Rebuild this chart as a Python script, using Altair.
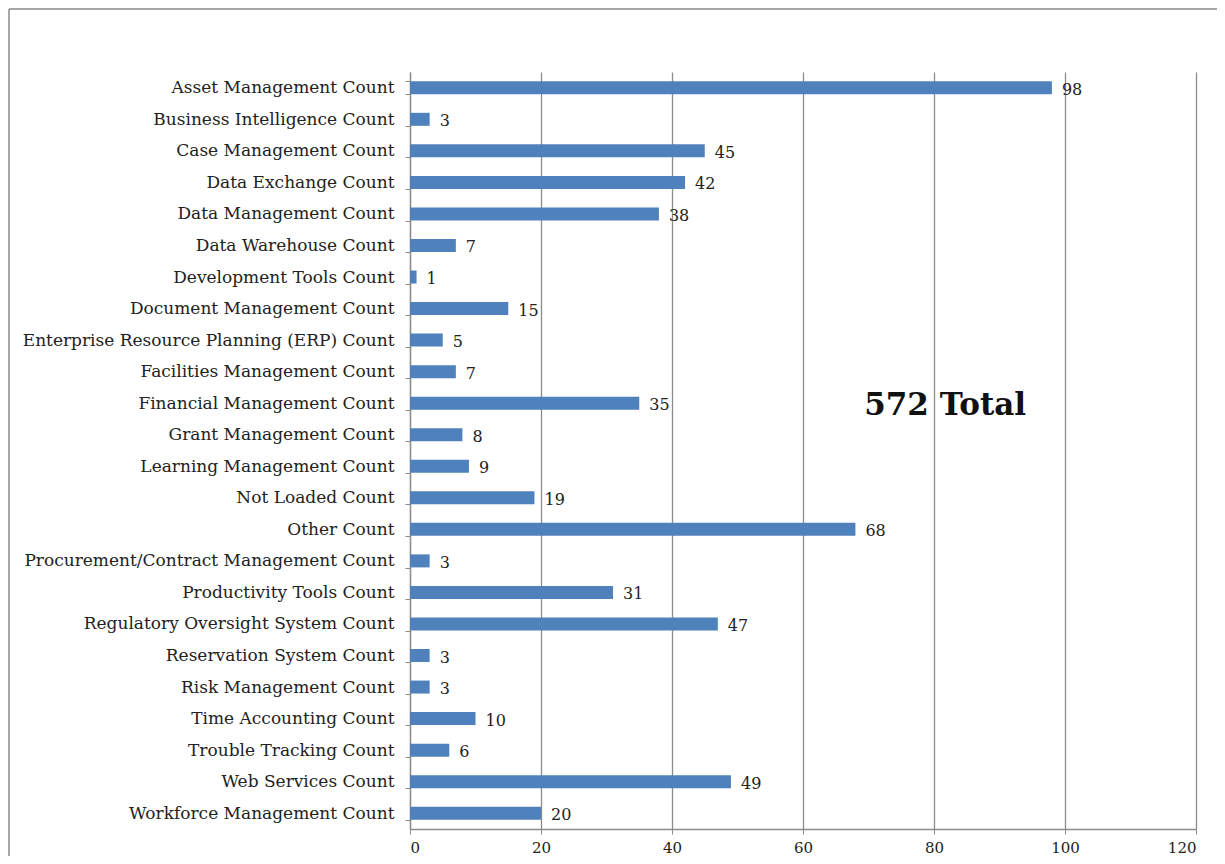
import altair as alt
import pandas as pd

categories = [
    "Asset Management Count", "Business Intelligence Count", "Case Management Count",
    "Data Exchange Count", "Data Management Count", "Data Warehouse Count",
    "Development Tools Count", "Document Management Count",
    "Enterprise Resource Planning (ERP) Count", "Facilities Management Count",
    "Financial Management Count", "Grant Management Count", "Learning Management Count",
    "Not Loaded Count", "Other Count", "Procurement/Contract Management Count",
    "Productivity Tools Count", "Regulatory Oversight System Count",
    "Reservation System Count", "Risk Management Count", "Time Accounting Count",
    "Trouble Tracking Count", "Web Services Count", "Workforce Management Count",
]
counts = [98, 3, 45, 42, 38, 7, 1, 15, 5, 7, 35, 8, 9, 19, 68, 3, 31, 47, 3, 3, 10, 6, 49, 20]

annotation_text = ["572 Total"]
annotation_x = [81.7]
annotation_y = ["Financial Management Count"]

df = pd.DataFrame({"category": categories, "count": counts})
ann = pd.DataFrame({"text": annotation_text, "x": annotation_x, "y": annotation_y})

FONT = "DejaVu Serif"

xscale = alt.Scale(domain=[0, 120], nice=False, zero=True)
yscale = alt.Scale(domain=categories, paddingInner=0.58, paddingOuter=0.29)

border_left = alt.Chart(ann).mark_rule(color="#8a8a8a", strokeWidth=1.5).encode(
    x=alt.value(-401), y=alt.value(-63), y2=alt.value(830)
)
border_top = alt.Chart(ann).mark_rule(color="#8a8a8a", strokeWidth=1.5).encode(
    x=alt.value(-401), x2=alt.value(830), y=alt.value(-63)
)

bars = alt.Chart(df).mark_bar(color="#4F81BD", size=13).encode(
    x=alt.X("count:Q", scale=xscale,
            axis=alt.Axis(title=None, values=[0, 20, 40, 60, 80, 100, 120], grid=True,
                          gridColor="#8c8c8c", gridWidth=1.3, domainColor="#8c8c8c",
                          tickColor="#8c8c8c", tickSize=5, labelFont=FONT, labelFontSize=15,
                          labelColor="#222222", labelPadding=6, domainWidth=1.3)),
    y=alt.Y("category:N", scale=yscale, sort=categories,
            axis=alt.Axis(title=None, tickBand="extent", grid=False, domainColor="#8c8c8c",
                          tickColor="#8c8c8c", tickSize=5, labelFont=FONT, labelFontSize=17,
                          labelColor="#222222", labelPadding=11, labelLimit=500,
                          domainWidth=1.3)),
)

labels = alt.Chart(df).mark_text(align="left", baseline="middle", dx=10, dy=2,
                                 font=FONT, fontSize=16, color="#222222").encode(
    x=alt.X("count:Q", scale=xscale),
    y=alt.Y("category:N", scale=yscale, sort=categories),
    text="count:Q",
)

total = alt.Chart(ann).mark_text(align="center", baseline="middle", dy=3, font=FONT,
                                 fontSize=31, fontWeight="bold", color="#111111").encode(
    x=alt.X("x:Q", scale=xscale),
    y=alt.Y("y:N", scale=yscale, sort=categories),
    text="text:N",
)

chart = alt.layer(border_left, border_top, bars, labels, total).properties(
    width=786, height=757,
    background="white",
    autosize=alt.AutoSizeParams(type="none"),
    padding={"left": 402, "top": 64, "right": 21, "bottom": 27},
).configure_view(strokeWidth=0)

chart.save("out.html", embed_options={"renderer": "svg", "actions": False})
